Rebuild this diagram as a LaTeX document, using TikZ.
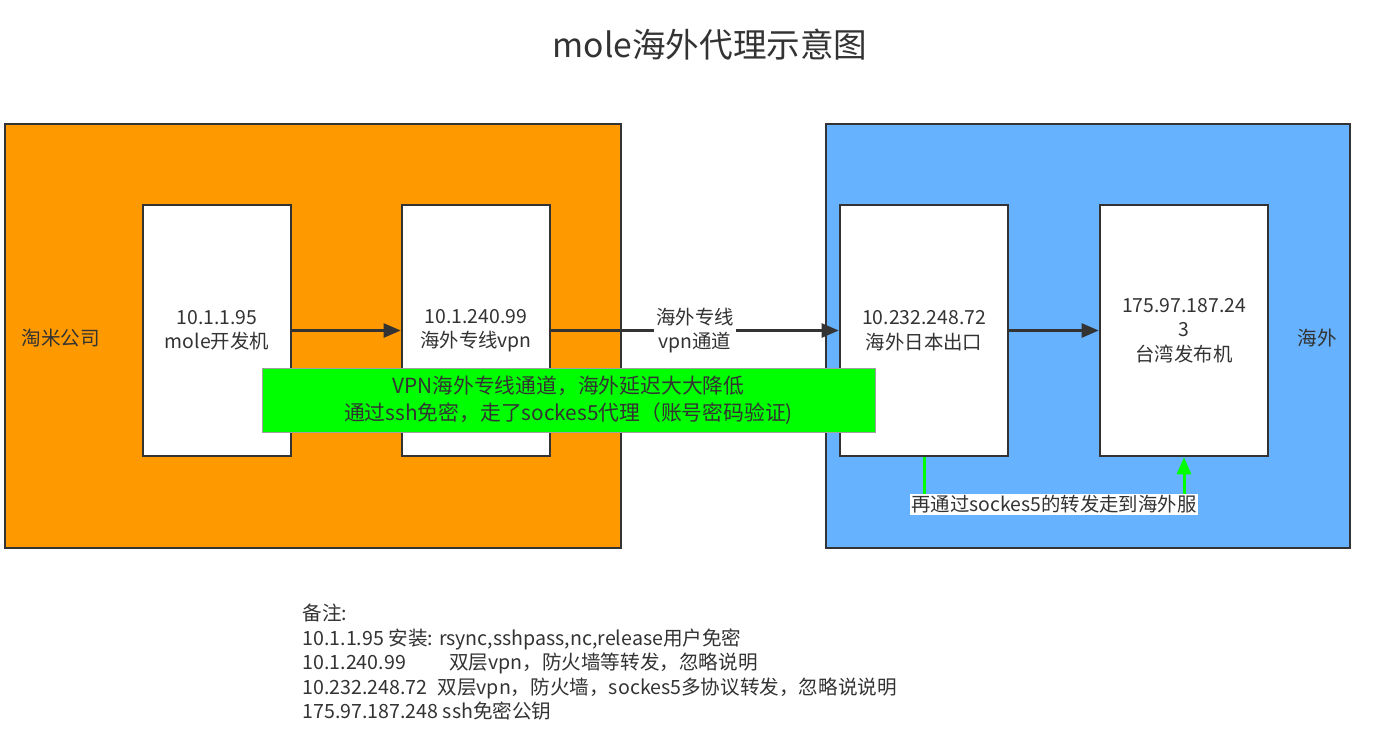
\documentclass[tikz,border=0pt]{standalone}
\usepackage{fontspec}
\setmainfont{Noto Sans CJK SC}
\usetikzlibrary{arrows.meta}
\definecolor{txt}{HTML}{333333}
\definecolor{orangefill}{HTML}{FF9900}
\definecolor{bluefill}{HTML}{66B2FF}
\definecolor{limefill}{HTML}{00FF00}
\definecolor{grayborder}{HTML}{A0A0A0}
\begin{document}
\begin{tikzpicture}[x=1pt,y=-1pt,
  every node/.style={text=txt},
  zone/.style={draw=txt,line width=2.6pt,inner sep=0pt},
  hostbox/.style={draw=txt,fill=white,line width=2.6pt,minimum height=251pt,align=center,inner sep=2pt,font=\fontsize{19.4}{24.5}\selectfont},
  conn/.style={draw=txt,line width=2.4pt,-{Triangle[length=17pt,width=14pt]}},
  greenconn/.style={draw=limefill,line width=3pt,-{Triangle[length=17pt,width=14pt]}},
  bodytext/.style={font=\fontsize{19.6}{24.5}\selectfont},
  wlabel/.style={fill=white,inner sep=2pt,align=center,font=\fontsize{19.4}{24.5}\selectfont}
]
\useasboundingbox (0,0) rectangle (1377,753);
\fill[white] (0,0) rectangle (1377,753);

% title
\node[font=\fontsize{33.6}{40}\selectfont] (title) at (710,45) {mole海外代理示意图};

% zones
\node[zone,fill=orangefill,minimum width=616pt,minimum height=424pt] (zoneA) at (313,336) {};
\node[zone,fill=bluefill,minimum width=524pt,minimum height=424pt] (zoneB) at (1088,336) {};
\node[bodytext,anchor=west] (labA) at (18,338) {淘米公司};
\node[bodytext,anchor=west] (labB) at (1294,338) {海外};

% hosts
\node[hostbox,minimum width=148pt] (b1) at (217,330.5) {10.1.1.95\\mole开发机};
\node[hostbox,minimum width=148pt] (b2) at (476,330.5) {10.1.240.99\\海外专线vpn};
\node[hostbox,minimum width=168pt] (b3) at (924,330.5) {10.232.248.72\\海外日本出口};
\node[hostbox,minimum width=168pt] (b4) at (1184,330.5) {175.97.187.24\\3\\台湾发布机};

% connectors
\draw[conn] (b1.east) -- (b2.west);
\draw[conn] (b2.east) -- node[wlabel] (vpnlab) {海外专线\\vpn通道} (b3.west);
\draw[conn] (b3.east) -- (b4.west);

% green note
\node[draw=grayborder,line width=1pt,fill=limefill,minimum width=613pt,minimum height=64pt,align=center,font=\fontsize{20.8}{27}\selectfont] (note) at (568.5,400) {VPN海外专线通道，海外延迟大大降低\\通过ssh免密，走了sockes5代理（账号密码验证)};

% green forward connector
\draw[greenconn] (b3.south) -- ++(0,47) coordinate (gc) -| node[wlabel,pos=0.25,inner sep=1.5pt] (fwd) {再通过sockes5的转发走到海外服} (b4.south);

% remarks
\node[bodytext,anchor=base west] (r1) at (299,620) {备注:};
\node[bodytext,anchor=base west] (r2) at (299,645) {10.1.1.95 安装: rsync,sshpass,nc,release用户免密};
\node[bodytext,anchor=base west] (r3) at (299,669.5) {10.1.240.99\hspace{2.2em}双层vpn，防火墙等转发，忽略说明};
\node[bodytext,anchor=base west] (r4) at (299,694) {10.232.248.72\hspace{0.5em}双层vpn，防火墙，sockes5多协议转发，忽略说说明};
\node[bodytext,anchor=base west] (r5) at (299,718.5) {175.97.187.248 ssh免密公钥};
\end{tikzpicture}
\end{document}
